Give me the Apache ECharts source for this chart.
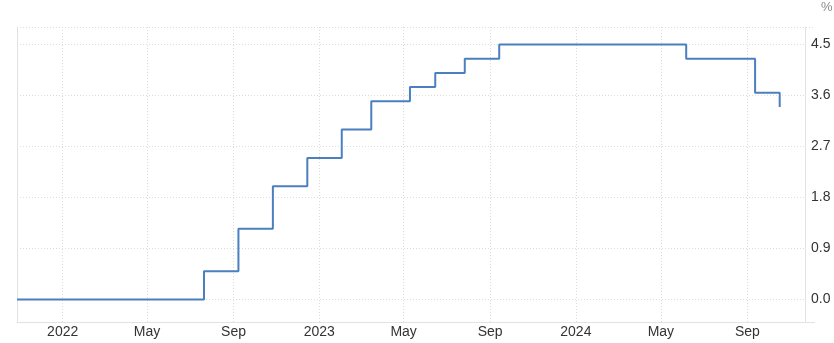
<!DOCTYPE html>
<html>
<head>
<meta charset="utf-8">
<script src="https://cdn.jsdelivr.net/npm/echarts@6/dist/echarts.min.js"></script>
<style>
html,body{margin:0;padding:0;background:#fff;}
#c{width:834px;height:343px;}
</style>
</head>
<body>
<div id="c"></div>
<script>
// Rate change dates and values (step series, value held until next date)
const dates = ['2021-10-28','2022-07-21','2022-09-08','2022-10-27','2022-12-15','2023-02-02','2023-03-16','2023-05-10','2023-06-15','2023-07-27','2023-09-14','2024-06-06','2024-09-12','2024-10-17'];
const rates = [0, 0.5, 1.25, 2, 2.5, 3, 3.5, 3.75, 4, 4.25, 4.5, 4.25, 3.65, 3.4];
// Axis tick values
const xTicks = ['2022-01-01','2022-05-01','2022-09-01','2023-01-01','2023-05-01','2023-09-01','2024-01-01','2024-05-01','2024-09-01'];
const yTicks = [0, 0.9, 1.8, 2.7, 3.6, 4.5];
const monthNames = ['Jan','Feb','Mar','Apr','May','Jun','Jul','Aug','Sep','Oct','Nov','Dec'];

const ts = s => Date.parse(s + 'T00:00:00Z');
const data = dates.map((d, i) => [ts(d), rates[i]]);
const xTickVals = xTicks.map(ts);
const chart = echarts.init(document.getElementById('c'), null, {renderer: 'canvas'});
const gridColor = '#dcdcdc';
const fontFamily = '"Liberation Sans", Arial, sans-serif';
chart.setOption({
  animation: false,
  grid: {left: 17, right: 29, top: 27, bottom: 21, outerBoundsMode: 'none', containLabel: false},
  xAxis: {
    type: 'value',
    min: ts('2021-10-28'),
    max: ts('2024-11-22'),
    axisLine: {show: true, onZero: false, lineStyle: {color: '#e2e2e2', width: 1}},
    axisTick: {show: false, customValues: xTickVals},
    splitLine: {show: true, lineStyle: {color: gridColor, type: [1, 2], width: 1}},
    axisLabel: {
      customValues: xTickVals,
      margin: 3,
      color: '#333',
      fontSize: 14,
      fontFamily: fontFamily,
      formatter: function (v) {
        const d = new Date(v);
        return d.getUTCMonth() === 0 ? String(d.getUTCFullYear()) : monthNames[d.getUTCMonth()];
      }
    }
  },
  yAxis: [{
    type: 'value',
    position: 'right',
    min: -0.395,
    max: 4.81,
    axisLine: {show: true, onZero: false, lineStyle: {color: '#e2e2e2', width: 1}},
    axisTick: {show: false, customValues: yTicks},
    splitLine: {show: true, lineStyle: {color: gridColor, type: [1, 2], width: 1}},
    axisLabel: {
      customValues: yTicks,
      margin: 6,
      color: '#333',
      fontSize: 14,
      fontFamily: fontFamily,
      formatter: v => v.toFixed(1)
    }
  }, {
    type: 'value',
    position: 'left',
    min: -0.395,
    max: 4.81,
    axisLine: {show: true, onZero: false, lineStyle: {color: '#e2e2e2', width: 1}},
    axisTick: {show: false},
    axisLabel: {show: false},
    splitLine: {show: false}
  }],
  graphic: [
    {type: 'text', left: 821, top: 1, style: {text: '%', fill: '#8c8c8c', font: '13px "Liberation Sans", Arial, sans-serif'}},
    {type: 'line', shape: {x1: 17, y1: 27.5, x2: 815, y2: 27.5}, style: {stroke: gridColor, lineWidth: 1, lineDash: [1, 2]}},
    {type: 'line', shape: {x1: 805, y1: 322.5, x2: 815, y2: 322.5}, style: {stroke: '#e2e2e2', lineWidth: 1}}
  ],
  series: [{
    type: 'line',
    step: 'end',
    data: data,
    showSymbol: false,
    symbol: 'none',
    lineStyle: {color: '#4a7fc0', width: 2},
    itemStyle: {color: '#4a7fc0'}
  }]
});
</script>
</body>
</html>
